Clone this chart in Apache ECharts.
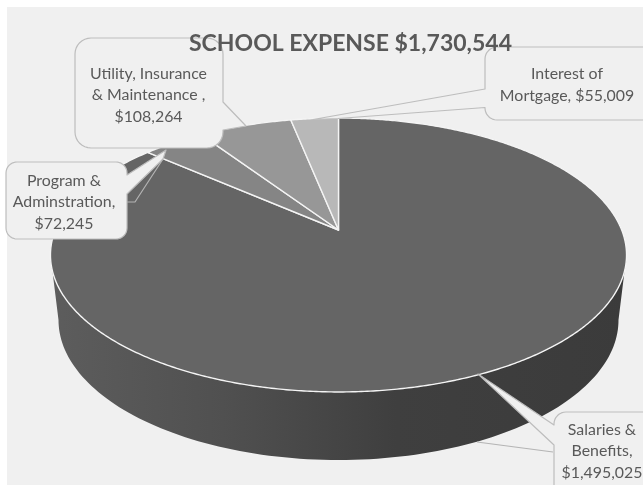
<!DOCTYPE html>
<html>
<head>
<meta charset="utf-8">
<style>html,body{margin:0;padding:0;background:#fff}#c{width:643px;height:485px}</style>
<script src="https://cdn.jsdelivr.net/npm/echarts@6/dist/echarts.min.js"></script>
</head>
<body>
<div id="c"></div>
<script>
const titleText = "SCHOOL EXPENSE $1,730,544";
const categories = ["Salaries & Benefits", "Program & Adminstration", "Utility, Insurance & Maintenance ", "Interest of Mortgage"];
const values = [1495025, 72245, 108264, 55009];

const sliceColors = ["#656565", "#858585", "#979797", "#b8b8b8"];
const textFont = '15.9px Lato';
const total = values.reduce((a, b) => a + b, 0);

// Perspective projection of the pie's rim circles
const K = 0.1825;
const top_ = { cx: 338.5, cy: 230, B: 283.2, A: 132.4 };
const bot_ = { cx: 338.5, cy: 294.5, B: 275.3, A: 135.3 };
function proj(ring, deg) {
  const t = deg * Math.PI / 180, u = Math.sin(t), v = Math.cos(t), w = 1 + K * v;
  return [ring.cx + ring.B * u / w, ring.cy - ring.A * v / w];
}
function arc(ring, a, b, n) {
  const out = [];
  for (let i = 0; i <= n; i++) out.push(proj(ring, a + (b - a) * i / n));
  return out;
}
function roundBox(x, y, w, h, r, inserts) {
  inserts = inserts || {};
  const pts = [];
  const corner = (cx, cy, s) => {
    for (let i = 0; i <= 8; i++) {
      const t = (s + 90 * i / 8) * Math.PI / 180;
      pts.push([cx + r * Math.cos(t), cy + r * Math.sin(t)]);
    }
  };
  corner(x + r, y + r, 180);
  corner(x + w - r, y + r, 270);
  (inserts.right || []).forEach(p => pts.push(p));
  corner(x + w - r, y + h - r, 0);
  corner(x + r, y + h - r, 90);
  (inserts.left || []).forEach(p => pts.push(p));
  return pts;
}
// Callout layouts, by category index
const callouts = [
  { box: [554, 412, 110, 90, 12], lines: ["Salaries &", "Benefits,"], tx: 602, ty: 451,
    left: [[554, 445], [478, 374], [554, 425]], extra: [[[477, 442], [553, 452]]] },
  { box: [6, 162, 121, 77, 11], lines: ["Program &", "Adminstration,"], tx: 64, ty: 202,
    right: [[127, 175], [166, 150], [163, 159], [127, 194]], extra: [[[163, 159], [135, 202], [127, 202]]] },
  { box: [75, 38, 148, 110, 16], lines: ["Utility, Insurance", "& Maintenance ,"], tx: 148.5, ty: 95,
    right: [[223, 102], [246, 126], [223, 130]] },
  { box: [485, 47, 170, 73, 12], lines: ["Interest of", "Mortgage, $55,009"], tx: 567, ty: 85, noValue: true,
    left: [[485, 107.5], [338, 118.5], [313, 119.5], [485, 89]] }
];

const chart = echarts.init(document.getElementById('c'));
const sideFill = new echarts.graphic.LinearGradient(50, 0, 627, 0, [
  { offset: 0, color: '#5d5d5d' }, { offset: 0.3, color: '#505050' },
  { offset: 0.6, color: '#3f3f3f' }, { offset: 1, color: '#3b3b3b' }
], true);

function renderSlice(params) {
  const i = params.dataIndex;
  let before = 0;
  for (let k = 0; k < i; k++) before += values[k];
  const a = before / total * 360, b = (before + values[i]) / total * 360;
  const children = [];
  if (i === 0) {
    const pts = arc(top_, 100.5, 259.5, 120).concat(arc(bot_, 259.5, 100.5, 120));
    children.push({ type: 'polygon', shape: { points: pts }, style: { fill: sideFill, stroke: null } });
  }
  const pts = [[top_.cx, top_.cy]].concat(arc(top_, a, b, Math.ceil((b - a) * 2)));
  children.push({ type: 'polygon', shape: { points: pts },
    style: { fill: sliceColors[i], stroke: '#f4f4f4', lineWidth: 1.4, lineJoin: 'round' } });
  return { type: 'group', children };
}
function renderCallout(params) {
  const i = params.dataIndex, c = callouts[i];
  const b = c.box;
  const pts = roundBox(b[0], b[1], b[2], b[3], b[4], { right: c.right, left: c.left });
  const children = [{ type: 'polygon', shape: { points: pts },
    style: { fill: '#f0f0f0', stroke: '#bdbdbd', lineWidth: 1.2, lineJoin: 'round' } }];
  (c.extra || []).forEach(l => children.push({ type: 'polyline', shape: { points: l },
    style: { fill: null, stroke: '#b4b4b4', lineWidth: 1.2 } }));
  const lines = c.lines.slice();
  if (!c.noValue) lines.push('$' + values[i].toLocaleString('en-US'));
  children.push({ type: 'text', style: { text: lines.join('\n'), x: c.tx, y: c.ty, align: 'center',
    verticalAlign: 'middle', font: textFont, lineHeight: 21.5, fill: '#595959' } });
  return { type: 'group', children };
}

const seriesData = categories.map((n, i) => ({ name: n, value: values[i] }));
chart.setOption({
  animation: false,
  backgroundColor: '#ffffff',
  title: { text: titleText, left: 184, top: 27,
    textStyle: { fontFamily: 'Lato', fontWeight: 'bold', fontSize: 23, color: '#595959' } },
  graphic: [{ type: 'rect', z: 0, silent: true, shape: { x: 7, y: 7, width: 640, height: 480 }, style: { fill: '#f0f0f0' } }],
  series: [
    { type: 'custom', coordinateSystem: 'none', z: 2, silent: true, data: seriesData, renderItem: renderSlice },
    { type: 'custom', coordinateSystem: 'none', z: 3, silent: true, data: seriesData, renderItem: renderCallout }
  ]
});
</script>
</body>
</html>
